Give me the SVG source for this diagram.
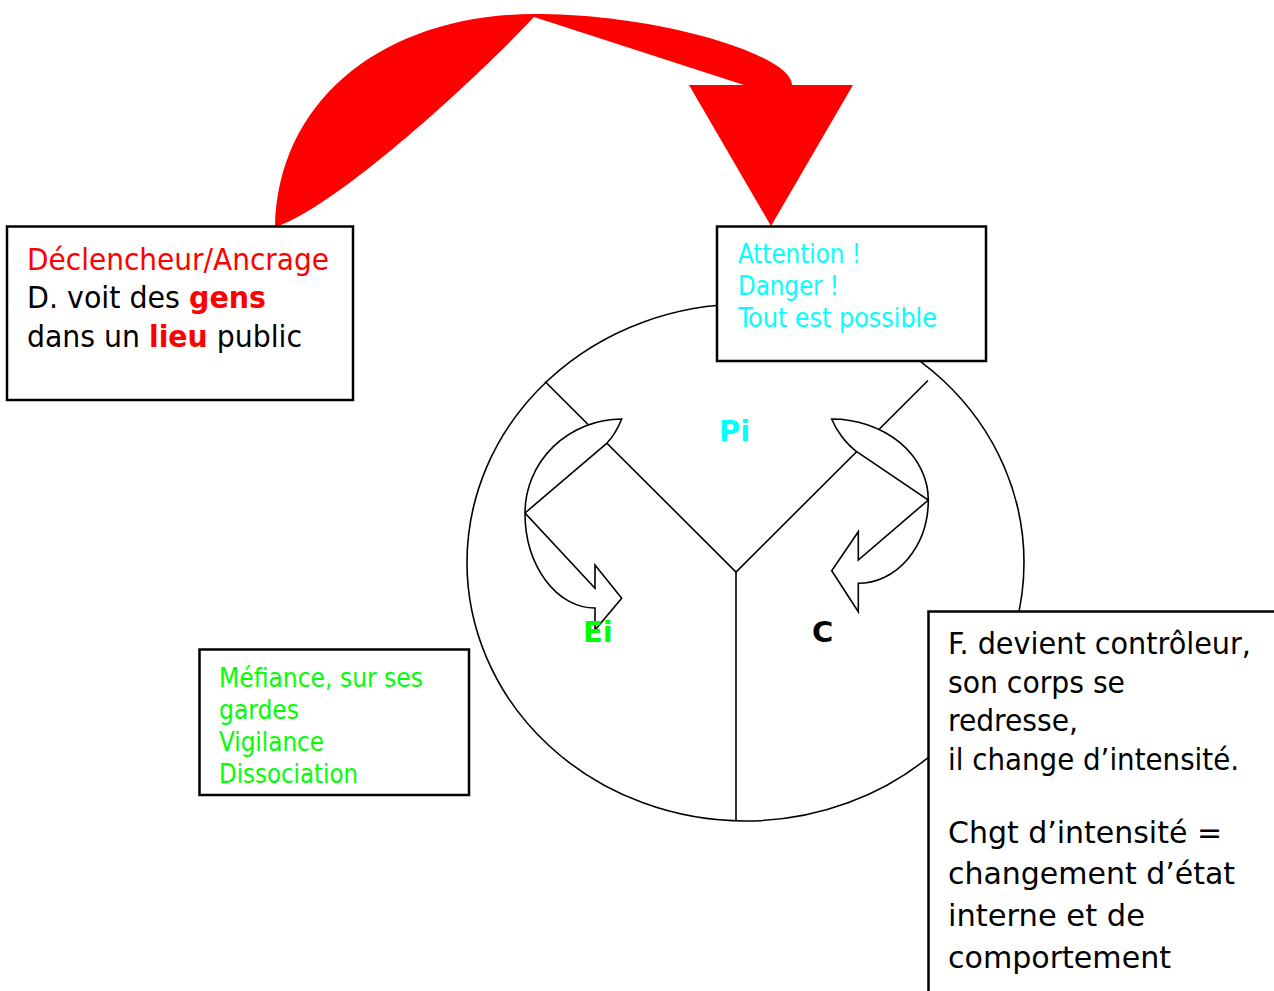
<svg xmlns="http://www.w3.org/2000/svg" width="1274" height="991" viewBox="0 0 1274 991">
<style>
.box{fill:#fff;stroke:#000;stroke-width:2.5}
.ln{fill:none;stroke:#000;stroke-width:1.6}
.carrow{fill:#fff;stroke:#000;stroke-width:1.6;stroke-linejoin:miter}
.t{font-family:"DejaVu Sans Condensed","DejaVu Sans",sans-serif}
.big{font-size:31px}
.sm{font-size:26px}
.lbl{font-family:"DejaVu Sans","Liberation Sans",sans-serif;font-weight:bold;font-size:29px}
.red{fill:#ff0000}
.b{font-weight:bold}
</style>
<rect width="1274" height="991" fill="#fff"/>
<g id="cycle">
<ellipse cx="745.5" cy="562.5" rx="278.5" ry="258.5" class="ln"/>
</g>
<g id="connectors">
<path class="ln" d="M545,381.5 L736,572 L928,380.5 M736,572 L736,821"/>
<path class="carrow" d="M621.7,419 A97,94 0 0 0 525,513 A70,95 0 0 0 595,608 L595,630 L621.7,598.3 L595,565 L595,588.3 L525,513 L606.7,443.3 C613,437 618,428 621.7,419 Z"/>
<path class="carrow" d="M831.7,419 A96.6,81 0 0 1 928.3,500 A70,83.3 0 0 1 858.3,583.3 L858.3,611.7 L831.7,570.7 L858.3,531.7 L858.3,560 L928.3,500 L856.7,451.7 C846,444 836,430 831.7,419 Z"/>
<path fill="#ff0000" d="M275,227 C278,95 390,14 535,14 C660,14 792,55 792,85 L853,85 L771,226 L689,85 L744,85 L534,17 C460,95 330,210 275,227 Z"/>
</g>
<g id="node-declencheur">
<rect class="box" x="7" y="226.5" width="346" height="173.5"/>
<text class="t big red" x="27" y="270" textLength="302" lengthAdjust="spacingAndGlyphs">Déclencheur/Ancrage</text>
<text class="t big" x="27" y="308" textLength="239" lengthAdjust="spacingAndGlyphs">D. voit des <tspan class="red b">gens</tspan></text>
<text class="t big" x="27" y="347" textLength="275" lengthAdjust="spacingAndGlyphs">dans un <tspan class="red b">lieu</tspan> public</text>
</g>
<g id="node-attention">
<rect class="box" x="717" y="226.5" width="269" height="134.5"/>
<text class="t sm" fill="#00ffff" x="738" y="263" textLength="123" lengthAdjust="spacingAndGlyphs">Attention !</text>
<text class="t sm" fill="#00ffff" x="738" y="295" textLength="101" lengthAdjust="spacingAndGlyphs">Danger !</text>
<text class="t sm" fill="#00ffff" x="738" y="327" textLength="199" lengthAdjust="spacingAndGlyphs">Tout est possible</text>
</g>
<g id="node-mefiance">
<rect class="box" x="199.5" y="649.5" width="269.5" height="145.5"/>
<text class="t sm" fill="#00ff00" x="219" y="687" textLength="204" lengthAdjust="spacingAndGlyphs">Méfiance, sur ses</text>
<text class="t sm" fill="#00ff00" x="219" y="719" textLength="80" lengthAdjust="spacingAndGlyphs">gardes</text>
<text class="t sm" fill="#00ff00" x="219" y="751" textLength="105" lengthAdjust="spacingAndGlyphs">Vigilance</text>
<text class="t sm" fill="#00ff00" x="219" y="783" textLength="139" lengthAdjust="spacingAndGlyphs">Dissociation</text>
</g>
<g id="node-controleur">
<rect class="box" x="928.5" y="611.5" width="400" height="400"/>
<text class="t big" x="948" y="654" textLength="303" lengthAdjust="spacingAndGlyphs">F. devient contrôleur,</text>
<text class="t big" x="948" y="693" textLength="177" lengthAdjust="spacingAndGlyphs">son corps se</text>
<text class="t big" x="948" y="731" textLength="130" lengthAdjust="spacingAndGlyphs">redresse,</text>
<text class="t big" x="948" y="770" textLength="291" lengthAdjust="spacingAndGlyphs">il change d’intensité.</text>
<text class="t big" x="948" y="843" textLength="274" lengthAdjust="spacingAndGlyphs">Chgt d’intensité =</text>
<text class="t big" x="948" y="884" textLength="287" lengthAdjust="spacingAndGlyphs">changement d’état</text>
<text class="t big" x="948" y="926" textLength="197" lengthAdjust="spacingAndGlyphs">interne et de</text>
<text class="t big" x="948" y="968" textLength="223" lengthAdjust="spacingAndGlyphs">comportement</text>
</g>
<g id="node-pi"><text class="lbl" fill="#00ffff" x="719" y="441">Pi</text></g>
<g id="node-ei"><text class="lbl" fill="#00ff00" x="583" y="642">Ei</text></g>
<g id="node-c"><text class="lbl" fill="#000" x="812" y="642">C</text></g>
</svg>
